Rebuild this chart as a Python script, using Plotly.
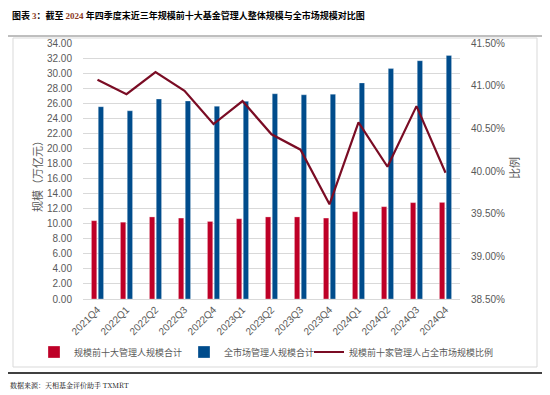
import plotly.graph_objects as go

quarters = ["2021Q4", "2022Q1", "2022Q2", "2022Q3", "2022Q4", "2023Q1", "2023Q2",
            "2023Q3", "2023Q4", "2024Q1", "2024Q2", "2024Q3", "2024Q4"]
top10_scale = [10.40, 10.20, 10.90, 10.75, 10.30, 10.66, 10.90, 10.90, 10.75, 11.60, 12.26, 12.80, 12.83]
market_scale = [25.54, 25.00, 26.56, 26.30, 25.60, 26.25, 27.26, 27.12, 27.20, 28.70, 30.60, 31.65, 32.35]
top10_ratio = [41.07, 40.90, 41.16, 40.94, 40.55, 40.82, 40.43, 40.25, 39.61, 40.57, 40.05, 40.76, 39.98]

name_top10 = "规模前十大管理人规模合计"
name_market = "全市场管理人规模合计"
name_ratio = "规模前十家管理人占全市场规模比例"

RED = "#BE0027"
BLUE = "#004C8C"
DARKRED = "#7A0C24"
GRAY = "#595959"
SANS = "Liberation Sans, Arial, Noto Sans CJK SC, sans-serif"
CJK = "Noto Sans CJK SC, sans-serif"

# page body has an 8px default margin -> figure drawn at (8, 8)
OFF = 8
W, H = 550 - OFF, 395 - OFF
L, R, T, B = 83 - OFF, 90, 43 - OFF, 96

def px2paper_x(px):
    return (px - OFF - L) / (W - L - R)

def px2paper_y(py):
    return (H - B - (py - OFF)) / (H - B - T)

fig = go.Figure()
fig.add_trace(go.Bar(x=quarters, y=top10_scale, name=name_top10, marker_color=RED,
                     marker_line=dict(color="rgba(255,255,255,0.5)", width=0.6), yaxis="y",
                     legend="legend"))
fig.add_trace(go.Bar(x=quarters, y=market_scale, name=name_market, marker_color=BLUE,
                     marker_line=dict(color="rgba(255,255,255,0.5)", width=0.6), yaxis="y",
                     legend="legend2"))
fig.add_trace(go.Scatter(x=quarters, y=top10_ratio, name=name_ratio, mode="lines",
                         line=dict(color=DARKRED, width=2.2), yaxis="y2", legend="legend3"))

def legend_at(px):
    return dict(orientation="h", x=px2paper_x(px), y=px2paper_y(352), xanchor="left",
                yanchor="middle", font=dict(family=CJK, size=9, color=GRAY),
                itemwidth=30, bgcolor="rgba(0,0,0,0)", borderwidth=0)

fig.update_layout(
    width=W, height=H,
    margin=dict(l=L, r=R, t=T, b=B, pad=0, autoexpand=False),
    paper_bgcolor="white", plot_bgcolor="white",
    barmode="group", bargap=0.53, bargroupgap=0.22,
    showlegend=True,
    legend=legend_at(34),
    legend2=legend_at(184),
    legend3=legend_at(309),
    xaxis=dict(type="category", tickangle=-45, tickfont=dict(family=SANS, size=10, color=GRAY),
               showline=True, linecolor="#d9d9d9", linewidth=1, ticks="", showgrid=False,
               range=[-0.5, len(quarters) - 0.5], automargin=False),
    yaxis=dict(range=[0, 34], dtick=2, tickformat=".2f", showgrid=True, gridcolor="#d9d9d9",
               gridwidth=1, zeroline=False, tickfont=dict(family=SANS, size=10, color=GRAY),
               ticks="", ticklabelstandoff=10, automargin=False),
    yaxis2=dict(range=[38.5, 41.5], dtick=0.5, tickformat=".2f", ticksuffix="%", overlaying="y",
                side="right", showgrid=False, zeroline=False, automargin=False,
                tickfont=dict(family=SANS, size=10, color=GRAY), ticks="", ticklabelstandoff=10),
)

annotations = [
    dict(text="图表 <span style='color:#8B3A1E;font-family:Liberation Serif'>3</span>：截至 <span style='color:#8B3A1E;font-family:Liberation Serif'>2024</span> 年四季度末近三年规模前十大基金管理人整体规模与全市场规模对比图",
         xref="paper", yref="paper", x=px2paper_x(10), y=px2paper_y(15), xanchor="left", yanchor="middle",
         showarrow=False, font=dict(family="Noto Sans CJK SC, sans-serif", size=9, color="black", weight="bold")),
    dict(text="规模（万亿元）", xref="paper", yref="paper", x=px2paper_x(37), y=px2paper_y(174),
         xanchor="center", yanchor="middle", textangle=-90, showarrow=False,
         font=dict(family=CJK, size=11, color=GRAY)),
    dict(text="比例", xref="paper", yref="paper", x=px2paper_x(514), y=px2paper_y(168),
         xanchor="center", yanchor="middle", textangle=-90, showarrow=False,
         font=dict(family=CJK, size=11, color=GRAY)),
    dict(text="数据来源：天相基金评价助手 TXMRT", xref="paper", yref="paper", x=px2paper_x(8),
         y=px2paper_y(385), xanchor="left", yanchor="middle", showarrow=False,
         font=dict(family="Noto Serif CJK SC, Liberation Serif, serif", size=7, color="black")),
]
fig.update_layout(annotations=annotations)

shapes = [
    dict(type="line", xref="paper", yref="paper", x0=px2paper_x(8), x1=px2paper_x(549),
         y0=px2paper_y(36), y1=px2paper_y(36), line=dict(color="#7f7f7f", width=1)),
    dict(type="rect", xref="paper", yref="paper", x0=px2paper_x(13), x1=px2paper_x(537),
         y0=px2paper_y(38), y1=px2paper_y(367), line=dict(color="#d9d9d9", width=1), layer="below"),
    dict(type="line", xref="paper", yref="paper", x0=px2paper_x(8), x1=px2paper_x(549),
         y0=px2paper_y(373), y1=px2paper_y(373), line=dict(color="black", width=1.5)),
]
fig.update_layout(shapes=shapes)

fig.write_html("out.html")
